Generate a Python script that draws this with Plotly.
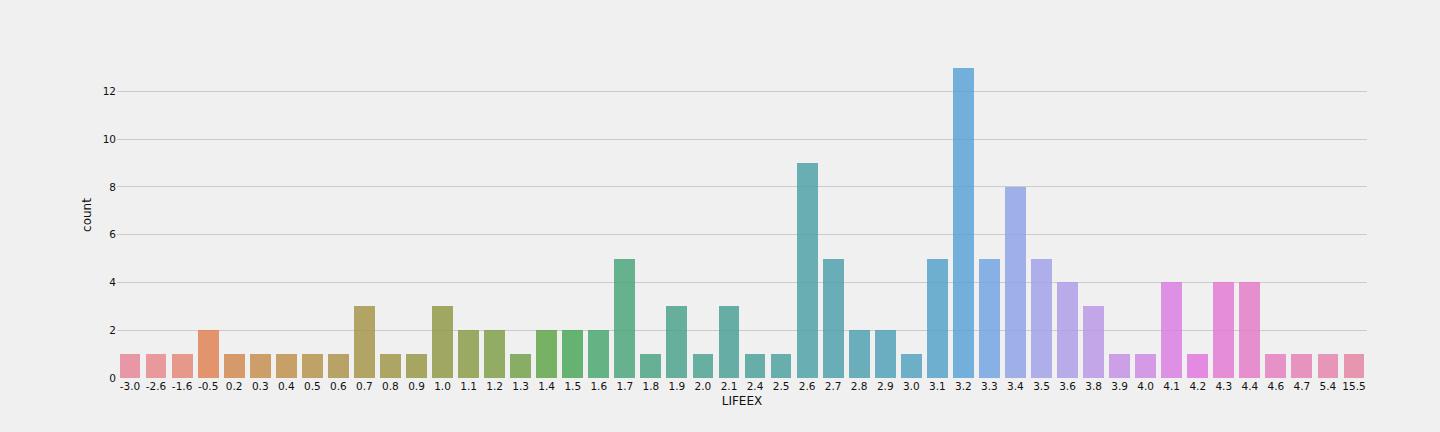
import math
import colorsys
import plotly.graph_objects as go

categories = ["-3.0", "-2.6", "-1.6", "-0.5", "0.2", "0.3", "0.4", "0.5", "0.6", "0.7",
              "0.8", "0.9", "1.0", "1.1", "1.2", "1.3", "1.4", "1.5", "1.6", "1.7",
              "1.8", "1.9", "2.0", "2.1", "2.4", "2.5", "2.6", "2.7", "2.8", "2.9",
              "3.0", "3.1", "3.2", "3.3", "3.4", "3.5", "3.6", "3.8", "3.9", "4.0",
              "4.1", "4.2", "4.3", "4.4", "4.6", "4.7", "5.4", "15.5"]
counts = [1, 1, 1, 2, 1, 1, 1, 1, 1, 3,
          1, 1, 3, 2, 2, 1, 2, 2, 2, 5,
          1, 3, 1, 3, 1, 1, 9, 5, 2, 2,
          1, 5, 13, 5, 8, 5, 4, 3, 1, 1,
          4, 1, 4, 4, 1, 1, 1, 1]
y_ticks = [0, 2, 4, 6, 8, 10, 12]

# husl palette (seaborn style) with 0.75 desaturation
M = [[3.2406, -1.5372, -0.4986], [-0.9689, 1.8758, 0.0415], [0.0557, -0.2040, 1.0570]]
REF_U, REF_V = 0.19784, 0.46834
KAPPA, EPS = 903.3, 0.008856


def max_chroma(L, H):
    hrad = math.radians(H)
    sinH, cosH = math.sin(hrad), math.cos(hrad)
    sub1 = (L + 16) ** 3 / 1560896.0
    sub2 = sub1 if sub1 > EPS else L / KAPPA
    result = float("inf")
    for m1, m2, m3 in M:
        top = (0.99915 * m1 + 1.05122 * m2 + 1.14460 * m3) * sub2
        rbottom = 0.86330 * m3 - 0.17266 * m2
        lbottom = 0.12949 * m3 - 0.38848 * m1
        bottom = (rbottom * sinH + lbottom * cosH) * sub2
        for t in (0.0, 1.0):
            C = L * (top - 1.05122 * t) / (bottom + 0.17266 * sinH * t)
            if 0 < C < result:
                result = C
    return result


def husl_to_rgb(h, s, l):
    c = max_chroma(l, h) / 100.0 * s
    hrad = math.radians(h)
    U, V = math.cos(hrad) * c, math.sin(hrad) * c
    t = (l + 16) / 116.0
    Y = t ** 3 if t ** 3 > EPS else (116 * t - 16) / KAPPA
    varU = U / (13 * l) + REF_U
    varV = V / (13 * l) + REF_V
    X = 0 - (9 * Y * varU) / ((varU - 4.0) * varV - varU * varV)
    Z = (9 * Y - 15 * varV * Y - varV * X) / (3 * varV)
    out = []
    for row in M:
        v = row[0] * X + row[1] * Y + row[2] * Z
        v = 12.92 * v if v <= 0.0031308 else 1.055 * v ** (1 / 2.4) - 0.055
        out.append(min(max(v, 0.0), 1.0))
    return out


n = len(categories)
colors = []
for i in range(n):
    h = ((i / n) + 0.01) % 1 * 359
    r, g, b = husl_to_rgb(h, 0.9 * 99, 0.65 * 99)
    hh, ll, ss = colorsys.rgb_to_hls(r, g, b)
    r, g, b = colorsys.hls_to_rgb(hh, ll, ss * 0.75)
    colors.append("rgb(%d,%d,%d)" % (round(r * 255), round(g * 255), round(b * 255)))

fig = go.Figure()
fig.add_trace(go.Bar(
    x=list(range(n)), y=counts,
    marker=dict(color=colors, line=dict(width=0), opacity=0.8),
    width=0.8,
))

fig.update_layout(
    width=1440, height=432,
    paper_bgcolor="#f0f0f0", plot_bgcolor="#f0f0f0",
    margin=dict(l=117, r=73, t=52, b=54),
    font=dict(family="DejaVu Sans", size=11, color="#111111"),
    showlegend=False,
    bargap=0,
    xaxis=dict(
        range=[-0.5, n - 0.5],
        tickmode="array", tickvals=list(range(n)), ticktext=categories,
        showgrid=False, zeroline=False, showline=False, ticks="",
        tickfont=dict(size=10.5),
        title=dict(text="LIFEEX", font=dict(size=12), standoff=6),
    ),
    yaxis=dict(
        range=[0, 13.65],
        tickmode="array", tickvals=y_ticks,
        showgrid=True, gridcolor="#cbcbcb", gridwidth=1,
        zeroline=False, showline=False, ticks="",
        tickfont=dict(size=10.5),
        title=dict(text="count", font=dict(size=12), standoff=8),
    ),
)

fig.write_html("out.html", config={"displayModeBar": False},
               post_script="document.body.style.margin='0';document.body.style.background='#f0f0f0';")
